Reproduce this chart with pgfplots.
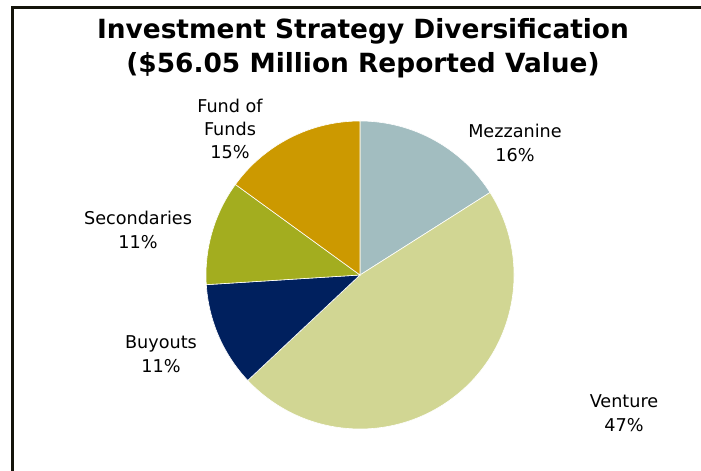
\documentclass[border=0pt]{standalone}
\usepackage{pgfplots}
\pgfplotsset{compat=1.18}
\usepackage{fontspec}
\setmainfont{DejaVu Sans}

\definecolor{cMez}{HTML}{A2BDC0}
\definecolor{cVen}{HTML}{D1D693}
\definecolor{cBuy}{HTML}{00205E}
\definecolor{cSec}{HTML}{A3AD1F}
\definecolor{cFoF}{HTML}{CC9900}
\definecolor{frame}{HTML}{14140A}

\begin{document}
\begin{tikzpicture}
\begin{axis}[
    scale only axis,
    width=701bp, height=471bp,
    xmin=0, xmax=701, ymin=0, ymax=471,
    hide axis,
    clip=false,
]
% frame (left and top)
\draw[frame, line width=3bp] (axis cs:12.5,0) -- (axis cs:12.5,463.5) -- (axis cs:701,463.5);

% slices, clockwise from the top: value / colour
\xdef\angs{90}
\foreach \v/\c in {16/cMez, 47/cVen, 11/cBuy, 11/cSec, 15/cFoF}{
    \pgfmathsetmacro\ange{\angs-3.6*\v}
    \edef\temp{\noexpand\fill[\c, draw=white, line width=0.6bp]
        (axis cs:360,196) -- ++(\angs:154bp)
        arc[start angle=\angs, end angle=\ange, radius=154bp] -- cycle;}
    \temp
    \xdef\angs{\ange}
}

% title
\node[font=\fontsize{26.5}{34}\selectfont\bfseries, align=center] at (axis cs:363,423)
    {Investment Strategy Diversification\\(\$56.05 Million Reported Value)};

% labels
\begin{scope}[every node/.style={font=\fontsize{17.7}{23.5}\selectfont, align=center, text=black}]
\node at (axis cs:515,328) {Mezzanine\\16\%};
\node at (axis cs:624,58) {Venture\\47\%};
\node at (axis cs:161,117) {Buyouts\\11\%};
\node at (axis cs:138,241) {Secondaries\\11\%};
\node at (axis cs:230,342) {Fund of\\Funds\\15\%};
\end{scope}
\end{axis}
\pgfresetboundingbox
\path[use as bounding box] (current axis.south west) rectangle (current axis.north east);
\end{tikzpicture}
\end{document}
